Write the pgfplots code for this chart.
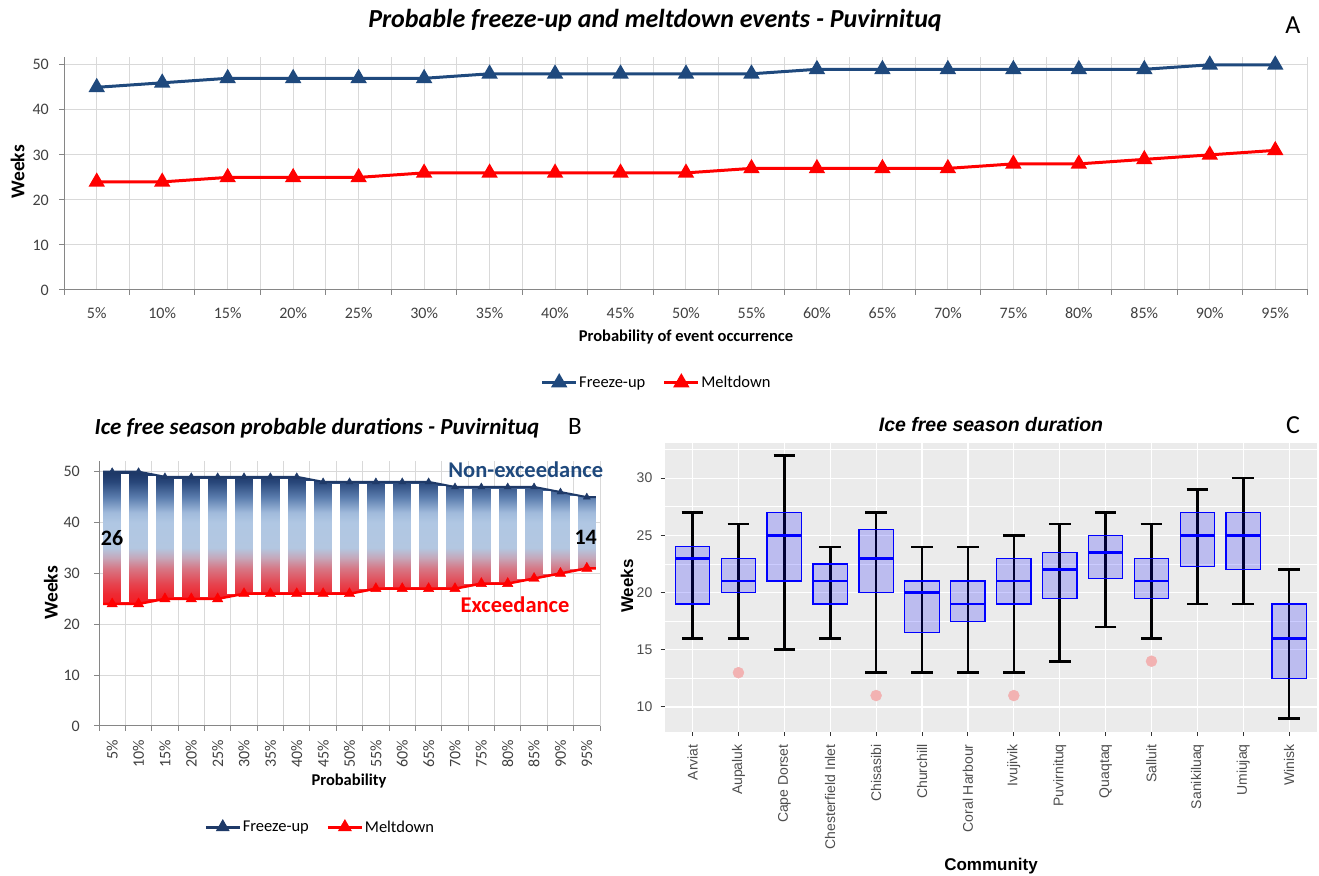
\documentclass[border=0pt]{standalone}
\usepackage{fontspec}
\setmainfont{Carlito}
\newfontfamily\arialf{Liberation Sans}
\usepackage{pgfplots}
\usepackage{pgfplotstable}
\pgfplotsset{compat=1.18}
\usepgfplotslibrary{statistics}

\definecolor{fblue}{HTML}{1F497D}
\definecolor{navy}{HTML}{1F3A68}
\definecolor{mred}{HTML}{FF0000}
\definecolor{gridc}{HTML}{D9D9D9}
\definecolor{axc}{HTML}{868686}
\definecolor{tickc}{HTML}{404040}
\definecolor{ggbg}{HTML}{EBEBEB}
\definecolor{ggtext}{HTML}{4D4D4D}
\definecolor{ggtick}{HTML}{333333}
\definecolor{outc}{HTML}{F2B2B2}
\definecolor{nonex}{HTML}{1F497D}
\definecolor{s0}{HTML}{F41C24}
\definecolor{s1}{HTML}{EE2A33}
\definecolor{s2}{HTML}{E6444F}
\definecolor{s3}{HTML}{D67886}
\definecolor{s4}{HTML}{C6A6B8}
\definecolor{s5}{HTML}{B3C7E1}
\definecolor{s6}{HTML}{B0C7E3}
\definecolor{s7}{HTML}{A0BADB}
\definecolor{s8}{HTML}{5A7CAD}
\definecolor{s9}{HTML}{284679}
\definecolor{s10}{HTML}{1C3664}
\pgfdeclareverticalshading{bluered}{100bp}{color(0bp)=(s0); color(25bp)=(s0); color(28.8bp)=(s1); color(32.7bp)=(s2); color(38.5bp)=(s3); color(42.3bp)=(s4); color(46.2bp)=(s5); color(55.8bp)=(s6); color(59.6bp)=(s7); color(65.4bp)=(s8); color(71.2bp)=(s9); color(75bp)=(s10); color(100bp)=(s10)}

\pgfplotstableread{
x f m
1 45 24
2 46 24
3 47 25
4 47 25
5 47 25
6 47 26
7 48 26
8 48 26
9 48 26
10 48 26
11 48 27
12 49 27
13 49 27
14 49 27
15 49 28
16 49 28
17 49 29
18 50 30
19 50 31
}\dataA

\pgfplotstableread{
x f m
1 50 24
2 50 24
3 49 25
4 49 25
5 49 25
6 49 26
7 49 26
8 49 26
9 48 26
10 48 26
11 48 27
12 48 27
13 48 27
14 47 27
15 47 28
16 47 28
17 47 29
18 46 30
19 45 31
}\dataB

\pgfplotstableread{
x f m
0.66 50 24
1 50 24
2 50 24
3 49 25
4 49 25
5 49 25
6 49 26
7 49 26
8 49 26
9 48 26
10 48 26
11 48 27
12 48 27
13 48 27
14 47 27
15 47 28
16 47 28
17 47 29
18 46 30
19 45 31
19.34 45 31
}\areaB

% closed outline of the band between the two curves (freeze-up forward, meltdown back)
\pgfplotstableread{
x y
0.66 50
1 50
2 50
3 49
4 49
5 49
6 49
7 49
8 49
9 48
10 48
11 48
12 48
13 48
14 47
15 47
16 47
17 47
18 46
19 45
19.34 45
19.34 31
19 31
18 30
17 29
16 28
15 28
14 27
13 27
12 27
11 27
10 26
9 26
8 26
7 26
6 26
5 25
4 25
3 25
2 24
1 24
0.66 24
}\bandB

\pgfplotstableread{
x lo len
1.5 24.38 25.24
2.5 24.88 24.24
3.5 25.38 23.24
4.5 25.38 23.24
5.5 25.88 22.74
6.5 26.38 22.24
7.5 26.38 22.24
8.5 26.38 21.74
9.5 26.38 21.24
10.5 26.88 20.74
11.5 27.38 20.24
12.5 27.38 20.24
13.5 27.38 19.74
14.5 27.88 18.74
15.5 28.38 18.24
16.5 28.88 17.74
17.5 29.88 16.24
18.5 30.88 14.24
}\stripsB

\pgfplotstableread{
x c h
1 21.5 5.5
2 21 5
3 23.5 8.5
4 20 4
5 20 7
6 18.5 5.5
7 18.5 5.5
8 19 6
9 20 6
10 22 5
11 21 5
12 24 5
13 24.5 5.5
14 15.5 6.5
}\whiskC

\pgfplotsset{
  ggbox/.style={boxplot/draw direction=y,
    boxplot prepared={#1, box extend=0.75, whisker extend=0},
    draw=blue, fill=blue, fill opacity=0.2, line width=1.3pt,
    boxplot/every median/.style={draw=blue, line width=2.6pt},
    boxplot/every whisker/.style={draw=none}, forget plot},
  xlsaxis/.style={
    scale only axis,
    axis x line*=bottom, axis y line*=left,
    axis line style={draw=axc, line width=1pt},
    tick align=outside,
    xtick={1,...,19},
    xticklabels={5\%,10\%,15\%,20\%,25\%,30\%,35\%,40\%,45\%,50\%,55\%,60\%,65\%,70\%,75\%,80\%,85\%,90\%,95\%},
    minor xtick={0.5,1.5,...,19.5},
    ytick={0,10,20,30,40,50},
    tick style={draw=axc, line width=1pt},
    major x tick style={draw=none},
    major tick length=5pt, minor tick length=5pt,
    major grid style={draw=gridc, line width=1pt},
    minor grid style={draw=gridc, line width=1pt},
    /pgf/number format/assume math mode=true,
    tick label style={font=\fontsize{16}{18}\selectfont, text=tickc, inner sep=0pt},
    yticklabel style={anchor=east},
    legend image code/.code={\draw[##1, mark repeat=2, mark phase=2] plot coordinates {(0pt,0pt) (17pt,0pt) (34pt,0pt)};},
  }
}

\begin{document}
\begin{tikzpicture}
\path[use as bounding box] (0pt,0pt) rectangle (1319pt,875pt);

% ---------------- Panel A
\begin{axis}[xlsaxis,
  at={(64pt,585pt)}, anchor=south west,
  width=1244pt, height=233.3pt,
  xmin=0.5, xmax=19.5, ymin=0, ymax=51.8,
  xmajorgrids, xminorgrids, ymajorgrids,
  xticklabel style={anchor=north, yshift=-12pt},
  yticklabel style={xshift=-10pt},
  legend style={at={(0.4762,-0.397)}, anchor=center, draw=none, fill=none,
    font=\fontsize{16.5}{19}\selectfont, legend columns=2,
    /tikz/every even column/.append style={column sep=16pt},
    nodes={inner sep=1.5pt}},
]
\addplot[fblue, line width=3pt, mark=triangle*, mark size=6.5pt, mark options={solid}] table[x=x,y=f]{\dataA};
\addlegendentry{Freeze-up}
\addplot[mred, line width=3pt, mark=triangle*, mark size=6.5pt, mark options={solid}] table[x=x,y=m]{\dataA};
\addlegendentry{Meltdown}
\end{axis}

\node[font=\fontsize{26}{30}\selectfont\bfseries\itshape] at (655pt,855pt) {Probable freeze-up and meltdown events - Puvirnituq};
\node[font=\fontsize{26}{30}\selectfont] at (1293pt,850pt) {A};
\node[font=\fontsize{16.5}{19}\selectfont\bfseries] at (686pt,538pt) {Probability of event occurrence};
\node[font=\fontsize{19.5}{22}\selectfont\bfseries, rotate=90] at (17.5pt,703pt) {Weeks};

% ---------------- Panel B
\begin{axis}[xlsaxis,
  at={(99pt,149pt)}, anchor=south west,
  width=501pt, height=264.5pt,
  xmin=0.5, xmax=19.5, ymin=0, ymax=52,
  xminorgrids, ymajorgrids,
  xticklabel style={yshift=-9pt, rotate=90, anchor=east},
  yticklabel style={xshift=-14pt},
  legend style={at={(0.441,-0.382)}, anchor=center, draw=none, fill=none,
    font=\fontsize{16.5}{19}\selectfont, legend columns=2,
    /tikz/every even column/.append style={column sep=16pt},
    nodes={inner sep=1.5pt}},
]
\addplot[shade, shading=bluered, draw=none, forget plot] table[x=x,y=y]{\bandB} -- cycle;
\addplot[draw=none, forget plot, error bars/.cd, y dir=plus, y explicit,
  error bar style={draw=white, line width=8pt}, error mark=none]
  table[x=x, y=lo, y error=len]{\stripsB};
\addplot[navy, line width=2pt, forget plot] table[x=x,y=f]{\areaB};
\addplot[mred, line width=2.5pt, forget plot] table[x=x,y=m]{\areaB};
\addplot[only marks, mark=triangle*, mark size=4pt, navy, forget plot] table[x=x,y=f]{\dataB};
\addplot[only marks, mark=triangle*, mark size=6pt, mred, forget plot] table[x=x,y=m]{\dataB};
\addlegendimage{navy, line width=3pt, mark=triangle*, mark size=5pt}
\addlegendentry{Freeze-up}
\addlegendimage{mred, line width=3pt, mark=triangle*, mark size=5pt}
\addlegendentry{Meltdown}
\end{axis}

\node[font=\fontsize{23}{27}\selectfont\bfseries\itshape] at (317pt,447pt) {Ice free season probable durations - Puvirnituq};
\node[font=\fontsize{25}{29}\selectfont] at (575pt,449pt) {B};
\node[font=\fontsize{16.5}{19}\selectfont\bfseries] at (349pt,94pt) {Probability};
\node[font=\fontsize{19.5}{22}\selectfont\bfseries, rotate=90] at (50.8pt,282pt) {Weeks};
\node[font=\fontsize{22}{26}\selectfont\bfseries, inner sep=0pt] at (112pt,337.3pt) {26};
\node[font=\fontsize{22}{26}\selectfont\bfseries, inner sep=0pt] at (585.7pt,337.3pt) {14};
\node[font=\fontsize{22.5}{26}\selectfont\bfseries, text=nonex, anchor=east, inner sep=0pt] at (603.3pt,405pt) {Non-exceedance};
\node[font=\fontsize{22.5}{26}\selectfont\bfseries, text=mred, inner sep=0pt] at (515pt,270pt) {Exceedance};

% ---------------- Panel C
\begin{axis}[
  at={(665pt,143.3pt)}, anchor=south west,
  scale only axis, width=651.7pt, height=289pt,
  xmin=0.4, xmax=14.6, ymin=7.84, ymax=33.1,
  axis background/.style={fill=ggbg},
  axis line style={draw=none},
  tick pos=left, tick align=outside,
  xtick={1,...,14},
  xticklabels={Arviat,Aupaluk,Cape Dorset,Chesterfield Inlet,Chisasibi,Churchill,Coral Harbour,Ivujivik,Puvirnituq,Quaqtaq,Salluit,Sanikiluaq,Umiujaq,Winisk},
  ytick={10,15,20,25,30},
  minor ytick={12.5,17.5,22.5,27.5,32.5},
  xmajorgrids, ymajorgrids, yminorgrids,
  major grid style={draw=white, line width=1.2pt},
  minor grid style={draw=white, line width=0.6pt},
  tick style={draw=ggtick, line width=1pt},
  major tick length=4.5pt, minor tick length=0pt,
  minor y tick style={draw=none},
  /pgf/number format/assume math mode=true,
  tick label style={font=\arialf\fontsize{14}{16}\selectfont, text=ggtext, inner sep=0pt},
  xticklabel style={yshift=-8pt, rotate=90, anchor=east},
  yticklabel style={anchor=east, xshift=-8pt},
]
\addplot[draw=none, forget plot, error bars/.cd, y dir=both, y explicit,
  error bar style={draw=black, line width=2.6pt}, error mark=|,
  error mark options={draw=black, line width=2.6pt, mark size=10.8pt}]
  table[x=x, y=c, y error=h]{\whiskC};
\addplot[ggbox={draw position=1, lower whisker=16, lower quartile=19, median=23, upper quartile=24, upper whisker=27}] coordinates {};
\addplot[ggbox={draw position=2, lower whisker=16, lower quartile=20, median=21, upper quartile=23, upper whisker=26}] coordinates {};
\addplot[ggbox={draw position=3, lower whisker=15, lower quartile=21, median=25, upper quartile=27, upper whisker=32}] coordinates {};
\addplot[ggbox={draw position=4, lower whisker=16, lower quartile=19, median=21, upper quartile=22.5, upper whisker=24}] coordinates {};
\addplot[ggbox={draw position=5, lower whisker=13, lower quartile=20, median=23, upper quartile=25.5, upper whisker=27}] coordinates {};
\addplot[ggbox={draw position=6, lower whisker=13, lower quartile=16.5, median=20, upper quartile=21, upper whisker=24}] coordinates {};
\addplot[ggbox={draw position=7, lower whisker=13, lower quartile=17.5, median=19, upper quartile=21, upper whisker=24}] coordinates {};
\addplot[ggbox={draw position=8, lower whisker=13, lower quartile=19, median=21, upper quartile=23, upper whisker=25}] coordinates {};
\addplot[ggbox={draw position=9, lower whisker=14, lower quartile=19.5, median=22, upper quartile=23.5, upper whisker=26}] coordinates {};
\addplot[ggbox={draw position=10, lower whisker=17, lower quartile=21.25, median=23.5, upper quartile=25, upper whisker=27}] coordinates {};
\addplot[ggbox={draw position=11, lower whisker=16, lower quartile=19.5, median=21, upper quartile=23, upper whisker=26}] coordinates {};
\addplot[ggbox={draw position=12, lower whisker=19, lower quartile=22.25, median=25, upper quartile=27, upper whisker=29}] coordinates {};
\addplot[ggbox={draw position=13, lower whisker=19, lower quartile=22, median=25, upper quartile=27, upper whisker=30}] coordinates {};
\addplot[ggbox={draw position=14, lower whisker=9, lower quartile=12.5, median=16, upper quartile=19, upper whisker=22}] coordinates {};
\addplot[only marks, mark=*, mark size=5.5pt, color=outc, forget plot] coordinates {(2,13) (5,11) (8,11) (11,14)};
\end{axis}

\node[font=\arialf\fontsize{19.5}{23}\selectfont\bfseries\itshape] at (991pt,450pt) {Ice free season duration};
\node[font=\fontsize{26}{30}\selectfont] at (1293pt,450pt) {C};
\node[font=\arialf\fontsize{17}{20}\selectfont\bfseries, rotate=90] at (627pt,289pt) {Weeks};
\node[font=\arialf\fontsize{17}{20}\selectfont\bfseries] at (991pt,9pt) {Community};
\end{tikzpicture}
\end{document}
